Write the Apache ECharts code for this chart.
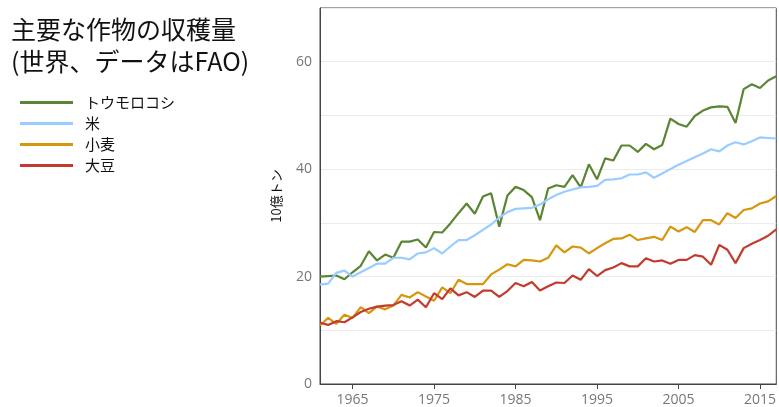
<!DOCTYPE html>
<html><head><meta charset="utf-8">
<script src="https://cdn.jsdelivr.net/npm/echarts@6/dist/echarts.min.js"></script>
<style>html,body{margin:0;padding:0;background:#fff}#c{width:779px;height:407px}</style>
</head><body><div id="c"></div>
<script>
const years = ['1961','1962','1963','1964','1965','1966','1967','1968','1969','1970',
  '1971','1972','1973','1974','1975','1976','1977','1978','1979','1980',
  '1981','1982','1983','1984','1985','1986','1987','1988','1989','1990',
  '1991','1992','1993','1994','1995','1996','1997','1998','1999','2000',
  '2001','2002','2003','2004','2005','2006','2007','2008','2009','2010',
  '2011','2012','2013','2014','2015','2016','2017'];
const tickYears = ['1965','1975','1985','1995','2005','2015'];
const yTickLabels = [0, 20, 40, 60];
const seriesNames = ['トウモロコシ', '米', '小麦', '大豆'];

const corn = [20.0, 20.1, 20.2, 19.5, 20.8, 22.0, 24.7, 23.0, 24.1, 23.5,
  26.5, 26.5, 26.9, 25.4, 28.3, 28.2, 29.9, 31.8, 33.6, 31.7,
  34.9, 35.5, 29.3, 35.1, 36.7, 36.1, 34.8, 30.5, 36.4, 37.0,
  36.7, 38.9, 36.6, 40.9, 38.1, 42.0, 41.6, 44.4, 44.4, 43.2,
  44.7, 43.7, 44.5, 49.4, 48.4, 47.9, 49.9, 50.9, 51.5, 51.7,
  51.6, 48.6, 54.9, 55.8, 55.1, 56.5, 57.3];
const rice = [18.5, 18.7, 20.7, 21.1, 20.0, 20.8, 21.6, 22.4, 22.4, 23.5,
  23.5, 23.2, 24.3, 24.5, 25.3, 24.3, 25.6, 26.8, 26.8, 27.7,
  28.7, 29.7, 31.0, 32.0, 32.6, 32.7, 32.8, 33.4, 34.4, 35.2,
  35.8, 36.2, 36.6, 36.7, 36.9, 38.0, 38.1, 38.3, 39.0, 39.0,
  39.4, 38.4, 39.2, 40.0, 40.8, 41.5, 42.2, 42.9, 43.7, 43.3,
  44.4, 45.0, 44.6, 45.2, 45.9, 45.8, 45.7];
const wheat = [10.9, 12.3, 11.2, 12.9, 12.3, 14.3, 13.2, 14.4, 13.9, 14.6,
  16.6, 16.1, 17.1, 16.3, 15.5, 18.0, 16.9, 19.4, 18.6, 18.6,
  18.6, 20.4, 21.3, 22.3, 21.9, 23.1, 23.0, 22.8, 23.5, 25.8,
  24.5, 25.6, 25.4, 24.3, 25.3, 26.2, 27.0, 27.1, 27.8, 26.8,
  27.1, 27.4, 26.8, 29.3, 28.4, 29.2, 28.3, 30.5, 30.5, 29.7,
  31.8, 30.9, 32.4, 32.7, 33.6, 34.0, 35.0];
const soy = [11.4, 11.0, 11.7, 11.5, 12.4, 13.4, 14.0, 14.4, 14.6, 14.7,
  15.4, 14.6, 15.7, 14.3, 16.9, 15.8, 17.8, 16.5, 17.1, 16.2,
  17.4, 17.4, 16.2, 17.3, 18.8, 18.2, 19.0, 17.4, 18.2, 18.9,
  18.8, 20.2, 19.4, 21.4, 20.1, 21.2, 21.7, 22.5, 21.9, 21.9,
  23.4, 22.8, 23.0, 22.4, 23.1, 23.1, 24.0, 23.7, 22.2, 25.9,
  25.0, 22.5, 25.3, 26.1, 26.8, 27.6, 28.8];

const colors = ['#5b8533', '#99ccff', '#d6960e', '#c23b2e'];
const values = [corn, rice, wheat, soy];

const chart = echarts.init(document.getElementById('c'), null, {renderer: 'canvas'});
const jp = '"Noto Sans CJK JP", sans-serif';
const num = '"Open Sans", sans-serif';
chart.setOption({
  animation: false,
  backgroundColor: '#fff',
  title: {
    text: '主要な作物の収穫量\n(世界、データはFAO)',
    left: 11, top: 13, padding: 0,
    textStyle: {fontSize: 25, lineHeight: 32, fontWeight: 'normal', color: '#111', fontFamily: jp}
  },
  legend: {
    orient: 'vertical', left: 20, top: 94, padding: 0,
    itemWidth: 53, itemHeight: 3, itemGap: 4, icon: 'rect',
    data: seriesNames,
    textStyle: {fontSize: 15, lineHeight: 17, color: '#111', fontFamily: jp, padding: [0, 0, 0, 7]}
  },
  grid: {left: 320, top: 8, width: 460, height: 377.5, show: true, borderColor: '#444', borderWidth: 1, backgroundColor: 'transparent'},
  xAxis: {
    type: 'category', data: years, boundaryGap: false,
    axisLine: {lineStyle: {color: '#444', width: 1}},
    axisTick: {interval: (i, v) => tickYears.includes(v), length: 5, lineStyle: {color: '#444'}},
    axisLabel: {interval: (i, v) => tickYears.includes(v), color: '#777', fontSize: 14, fontFamily: num, margin: 9},
    splitLine: {show: false}
  },
  yAxis: {
    type: 'value', min: 0, max: 70, interval: 10,
    name: '10億トン', nameLocation: 'middle', nameGap: 37,
    nameTextStyle: {color: '#111', fontSize: 13, fontFamily: jp},
    axisLine: {show: true, lineStyle: {color: '#444', width: 1}},
    axisTick: {show: false},
    axisLabel: {formatter: v => yTickLabels.includes(v) ? String(v) : '', color: '#777', fontSize: 14, fontFamily: num, margin: 8},
    splitLine: {lineStyle: {color: '#ebebeb', width: 1}}
  },
  series: seriesNames.map((n, i) => ({
    name: n, type: 'line', data: values[i], showSymbol: false, symbol: 'none',
    itemStyle: {color: colors[i]},
    lineStyle: {color: colors[i], width: 2.2}
  }))
});
</script></body></html>
